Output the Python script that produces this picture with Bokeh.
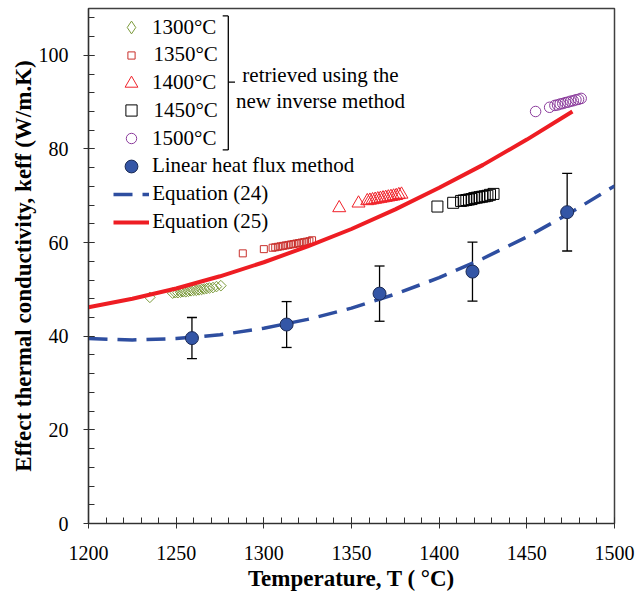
import numpy as np
from bokeh.plotting import figure
from bokeh.models import (Range1d, SingleIntervalTicker, ColumnDataSource, Whisker, TeeHead,
                          Legend, LegendItem, Label, Arrow)
from bokeh.embed import file_html
from bokeh.resources import INLINE

# ---------------- data ----------------
t1300 = [1235, 1248, 1249.5, 1251, 1252.5, 1254, 1255.5, 1257, 1258.5, 1260, 1261.5, 1263,
         1264.5, 1266, 1267.5, 1269, 1271, 1273, 1275.5]
k1300 = [48.3, 49.2, 49.3, 49.3, 49.4, 49.5, 49.5, 49.6, 49.7, 49.8, 49.8, 49.9,
         50.0, 50.1, 50.2, 50.3, 50.4, 50.6, 50.8]

t1350 = [1288, 1300, 1305, 1306.5, 1308, 1309.5, 1311, 1312.5, 1314, 1315.5, 1317, 1318.5,
         1320, 1321.5, 1323, 1324.5, 1326, 1327.5]
k1350 = [57.7, 58.6, 58.9, 59.0, 59.1, 59.2, 59.3, 59.4, 59.5, 59.6, 59.7, 59.8,
         59.9, 60.0, 60.1, 60.2, 60.3, 60.5]

t1400 = [1343, 1354, 1359, 1360.5, 1362, 1363.5, 1365, 1366.5, 1368, 1369.5, 1371, 1372.5,
         1374, 1375.5, 1377, 1378.5]
k1400 = [67.4, 68.4, 68.9, 69.0, 69.1, 69.2, 69.3, 69.4, 69.5, 69.6, 69.7, 69.8,
         69.9, 70.0, 70.2, 70.3]

t1450 = [1399, 1408, 1412.5, 1414, 1415.5, 1417, 1418.5, 1420, 1421.5, 1423, 1424.5, 1426,
         1427.5, 1429, 1431]
k1450 = [67.7, 68.5, 68.9, 69.0, 69.1, 69.2, 69.3, 69.5, 69.6, 69.7, 69.8, 69.9,
         70.0, 70.2, 70.4]

t1500 = [1455, 1463, 1466, 1467.5, 1469, 1470.5, 1472, 1473.5, 1475, 1476.5, 1478, 1479.5, 1481]
k1500 = [88.0, 88.9, 89.3, 89.4, 89.6, 89.7, 89.9, 90.0, 90.2, 90.3, 90.5, 90.6, 90.8]

lin_T = [1259, 1313, 1366, 1419, 1473]
lin_k = [39.6, 42.5, 49.1, 53.8, 66.5]
lin_err = [4.4, 4.9, 5.9, 6.3, 8.3]

eq24_T = [1200, 1225, 1250, 1275, 1300, 1325, 1350, 1375, 1400, 1425, 1450, 1475, 1500]
eq24_k = [39.5, 39.2, 39.5, 40.3, 41.7, 43.6, 46.0, 49.0, 52.5, 56.6, 61.2, 66.4, 72.1]

eq25_T = [1200, 1225, 1250, 1275, 1300, 1325, 1350, 1375, 1400, 1425, 1450, 1476]
eq25_k = [46.2, 48.0, 50.2, 52.8, 55.8, 59.2, 62.9, 67.1, 71.7, 76.6, 82.0, 88.0]

series_labels = ["1300°C", "1350°C", "1400°C", "1450°C", "1500°C",
                 "Linear heat flux method", "Equation (24)", "Equation (25)"]
note_lines = ["retrieved using the", "new inverse method"]
x_title = "Temperature, T ( °C)"
y_title = "Effect thermal conductivity, keff (W/m.K)"

# ---------------- layout constants ----------------
W, H = 637, 593
BL, BR, BT, BB = 88, 23, 8, 69
FW, FH = W - BL - BR, H - BT - BB
X0, X1, Y0, Y1 = 1200, 1500, 0, 110
PXX = FW / (X1 - X0)
PXY = FH / (Y1 - Y0)


def dx(px):  # pixel offset from frame left -> data x
    return X0 + px / PXX


def dy(py):  # pixel offset from frame top -> data y
    return Y1 - py / PXY


SERIF = "Liberation Serif"
OLIVE = "#7B9A3A"
DRED = "#C9302C"
RED = "#F0222A"
PURPLE = "#8B3B9C"
BLUE_FILL = "#3456A6"
BLUE_EDGE = "#1B2A55"
BLUE_LINE = "#2E4EA0"
LINE_RED = "#EE1D23"
AX = "#303030"

p = figure(width=W, height=H, x_range=Range1d(X0, X1), y_range=Range1d(Y0, Y1),
           output_backend="svg", toolbar_location=None,
           min_border_left=BL, min_border_right=BR, min_border_top=BT, min_border_bottom=BB)
p.xgrid.visible = False
p.ygrid.visible = False
p.outline_line_color = "#404040"
p.outline_line_width = 1.5
p.background_fill_color = "white"
p.border_fill_color = "white"

p.xaxis.ticker = SingleIntervalTicker(interval=50, num_minor_ticks=5)
p.yaxis.ticker = SingleIntervalTicker(interval=20, num_minor_ticks=5)
for ax in (p.xaxis[0], p.yaxis[0]):
    ax.axis_line_color = AX
    ax.axis_line_width = 1.2
    ax.major_tick_line_color = AX
    ax.minor_tick_line_color = AX
    ax.major_tick_in = 6
    ax.major_tick_out = 5
    ax.minor_tick_in = 6
    ax.minor_tick_out = 0
    ax.major_label_text_font = SERIF
    ax.major_label_text_font_size = "20px"
    ax.major_label_text_color = "black"
    ax.axis_label_text_font = SERIF
    ax.axis_label_text_font_size = "23px"
    ax.axis_label_text_font_style = "bold"
    ax.axis_label_text_color = "black"
p.xaxis.major_label_standoff = 17
p.yaxis.major_label_standoff = 15
p.xaxis.axis_label = x_title
p.yaxis.axis_label = y_title
p.xaxis.axis_label_standoff = 3
p.yaxis.axis_label_standoff = 0

# ---------------- glyphs ----------------
r1300 = p.scatter(t1300, k1300, marker="square", angle=np.pi / 4, size=7.5,
                  fill_alpha=0, line_color=OLIVE, line_width=1)
# legend-only key for the diamond series (legend keys are drawn unrotated)
k1300_key = p.scatter([np.nan], [np.nan], marker="diamond", size=13,
                      fill_alpha=0, line_color=OLIVE, line_width=1)
r1350 = p.scatter(t1350, k1350, marker="square", size=7, fill_alpha=0, line_color=DRED, line_width=1)
r1400 = p.scatter(t1400, k1400, marker="triangle", size=13, fill_alpha=0, line_color=RED, line_width=1)
r1450 = p.scatter(t1450, k1450, marker="square", size=11, fill_alpha=0, line_color="black", line_width=1)
r1500 = p.scatter(t1500, k1500, marker="circle", size=10.5, fill_alpha=0, line_color=PURPLE, line_width=1)

r24 = p.line(eq24_T, eq24_k, line_color=BLUE_LINE, line_width=3.5, line_dash="19 10")
r25 = p.line(eq25_T, eq25_k, line_color=LINE_RED, line_width=4)

err_src = ColumnDataSource(dict(
    T=lin_T,
    up=[k + e for k, e in zip(lin_k, lin_err)],
    lo=[k - e for k, e in zip(lin_k, lin_err)],
))
wh = Whisker(base="T", upper="up", lower="lo", source=err_src, dimension="height",
             line_color="black", line_width=1.3, level="underlay",
             upper_head=TeeHead(size=10, line_color="black", line_width=1.3),
             lower_head=TeeHead(size=10, line_color="black", line_width=1.3))
p.add_layout(wh)

rlin = p.scatter(lin_T, lin_k, marker="circle", size=13, fill_color=BLUE_FILL,
                 line_color=BLUE_EDGE, line_width=1)

# ---------------- legend (one row per Legend so key sizes match) ----------------
rows = [
    (k1300_key, 20.1, 32.5),
    (r1350, 47.9, 17.5),
    (r1400, 75.7, 32.5),
    (r1450, 103.4, 27.5),
    (r1500, 131.0, 26.25),
    (rlin, 158.7, 32.5),
    (r24, 186.8, None),
    (r25, 214.6, None),
]
KEY_CX = 43.2      # key centre, px from frame left
LABEL_X = 64.5     # label start, px from frame left
for (rend, cy, gw), lab in zip(rows, series_labels):
    if gw is None:
        gw_, gh = 36, 28
    else:
        gw_ = gw
        gh = max(gw, 28)
    x0 = KEY_CX - gw_ / 2
    leg = Legend(items=[LegendItem(label=lab, renderers=[rend])],
                 location=(x0, FH - cy - gh / 2),
                 glyph_width=int(round(gw_)), glyph_height=int(round(gh)),
                 label_height=int(round(gh)), label_width=10,
                 label_standoff=int(round(LABEL_X - x0 - gw_)),
                 padding=0, margin=0, spacing=0,
                 border_line_alpha=0, background_fill_alpha=0,
                 label_text_font=SERIF, label_text_font_size="21px", label_text_color="black")
    p.add_layout(leg)

# bracket
BX, BXL, BXR = 139.8, 134.2, 146.5
BYT, BYB, BYM = 7.4, 141.7, 73.7
for xs, ys, xe, ye in [(BX, BYT, BX, BYB), (BXL, BYT, BX, BYT), (BXL, BYB, BX, BYB), (BX, BYM, BXR, BYM)]:
    p.add_layout(Arrow(x_start=dx(xs), y_start=dy(ys), x_end=dx(xe), y_end=dy(ye),
                       start=None, end=None, line_color="black", line_width=1.3))

for txt, by in zip(note_lines, [66.6, 92.9]):
    p.add_layout(Label(x=dx(232), y=dy(by), text=txt, text_align="center",
                       text_baseline="alphabetic", text_font=SERIF, text_font_size="21px",
                       text_color="black"))

open("out.html", "w").write(file_html(p, INLINE))
